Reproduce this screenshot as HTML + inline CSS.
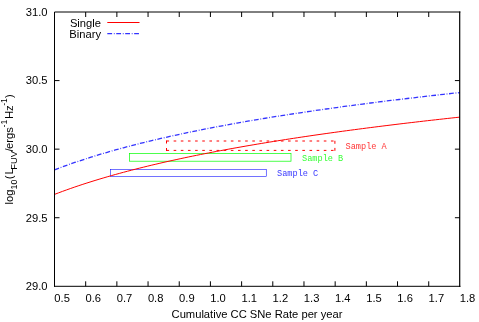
<!DOCTYPE html>
<html><head><meta charset="utf-8"><style>
html,body{margin:0;padding:0;background:#fff;}
svg{display:block;will-change:transform;}
text{font-family:"Liberation Sans",sans-serif;font-size:11.2px;fill:#000;}
.m{font-family:"Liberation Mono",monospace;font-size:8.6px;}
</style></head><body>
<svg width="479" height="322" viewBox="0 0 479 322">
<rect width="479" height="322" fill="#fff"/>

<g fill="none" stroke="#ff0000" stroke-width="1">
<path d="M166.5,141H335" stroke-dasharray="2.6 4.55"/>
<path d="M166.5,150.4H335" stroke-dasharray="2.6 4.55"/>
<path d="M166.5,140.5V151" stroke-dasharray="3 4.5 3 10"/>
<path d="M334.9,140.8V150.8" stroke-dasharray="3 4.1 3 10"/>
</g>
<rect x="129.5" y="153.5" width="161.5" height="7.7" fill="none" stroke="#00ff00" stroke-width="0.7"/>
<rect x="110.5" y="169.6" width="155.75" height="6.7" fill="none" stroke="#0000ff" stroke-width="0.55"/>
<polyline points="54.50,194.40 58.55,192.85 62.61,191.34 66.66,189.87 70.72,188.43 74.77,187.03 78.82,185.65 82.88,184.31 86.93,183.00 90.99,181.72 95.04,180.46 99.09,179.22 103.15,178.02 107.20,176.83 111.26,175.67 115.31,174.53 119.36,173.41 123.42,172.32 127.47,171.24 131.53,170.18 135.58,169.14 139.63,168.11 143.69,167.11 147.74,166.12 151.80,165.14 155.85,164.19 159.90,163.24 163.96,162.31 168.01,161.40 172.07,160.50 176.12,159.61 180.17,158.74 184.23,157.87 188.28,157.02 192.34,156.18 196.39,155.36 200.44,154.54 204.50,153.74 208.55,152.94 212.61,152.16 216.66,151.38 220.71,150.62 224.77,149.87 228.82,149.12 232.88,148.38 236.93,147.66 240.98,146.94 245.04,146.23 249.09,145.53 253.15,144.83 257.20,144.15 261.25,143.47 265.31,142.80 269.36,142.13 273.42,141.48 277.47,140.83 281.52,140.19 285.58,139.55 289.63,138.92 293.69,138.30 297.74,137.68 301.79,137.07 305.85,136.47 309.90,135.87 313.96,135.28 318.01,134.69 322.06,134.11 326.12,133.54 330.17,132.97 334.23,132.41 338.28,131.85 342.33,131.29 346.39,130.74 350.44,130.20 354.50,129.66 358.55,129.13 362.60,128.60 366.66,128.07 370.71,127.55 374.77,127.04 378.82,126.53 382.87,126.02 386.93,125.52 390.98,125.02 395.04,124.52 399.09,124.03 403.14,123.54 407.20,123.06 411.25,122.58 415.31,122.11 419.36,121.64 423.41,121.17 427.47,120.70 431.52,120.24 435.58,119.79 439.63,119.33 443.68,118.88 447.74,118.43 451.79,117.99 455.85,117.55 459.90,117.11" fill="none" stroke="#ff0000" stroke-width="1.0"/>
<polyline points="54.50,169.85 58.55,168.30 62.61,166.79 66.66,165.32 70.72,163.88 74.77,162.48 78.82,161.10 82.88,159.76 86.93,158.45 90.99,157.17 95.04,155.91 99.09,154.67 103.15,153.47 107.20,152.28 111.26,151.12 115.31,149.98 119.36,148.86 123.42,147.77 127.47,146.69 131.53,145.63 135.58,144.59 139.63,143.56 143.69,142.56 147.74,141.57 151.80,140.59 155.85,139.64 159.90,138.69 163.96,137.76 168.01,136.85 172.07,135.95 176.12,135.06 180.17,134.19 184.23,133.32 188.28,132.47 192.34,131.63 196.39,130.81 200.44,129.99 204.50,129.19 208.55,128.39 212.61,127.61 216.66,126.83 220.71,126.07 224.77,125.32 228.82,124.57 232.88,123.83 236.93,123.11 240.98,122.39 245.04,121.68 249.09,120.98 253.15,120.28 257.20,119.60 261.25,118.92 265.31,118.25 269.36,117.58 273.42,116.93 277.47,116.28 281.52,115.64 285.58,115.00 289.63,114.37 293.69,113.75 297.74,113.13 301.79,112.52 305.85,111.92 309.90,111.32 313.96,110.73 318.01,110.15 322.06,109.56 326.12,108.99 330.17,108.42 334.23,107.86 338.28,107.30 342.33,106.74 346.39,106.19 350.44,105.65 354.50,105.11 358.55,104.58 362.60,104.05 366.66,103.52 370.71,103.00 374.77,102.49 378.82,101.98 382.87,101.47 386.93,100.97 390.98,100.47 395.04,99.97 399.09,99.48 403.14,98.99 407.20,98.51 411.25,98.03 415.31,97.56 419.36,97.09 423.41,96.62 427.47,96.15 431.52,95.69 435.58,95.24 439.63,94.78 443.68,94.33 447.74,93.88 451.79,93.44 455.85,93.00 459.90,92.56" fill="none" stroke="#0000ff" stroke-width="1.3" stroke-opacity="0.8" stroke-dasharray="4.8 1.75 0.8 1.6"/>
<path d="M54.5,286.3V12.0H459.9" fill="none" stroke="#000" stroke-width="1" stroke-linecap="square"/>
<path d="M54.5,286.3H459.9" fill="none" stroke="#000" stroke-width="1" stroke-linecap="square"/>
<path d="M459.7,12.0V286.3" fill="none" stroke="#000" stroke-width="1.2" stroke-linecap="square"/>
<text transform="translate(62.10,301.80) scale(1,1.04)" text-anchor="middle" >0.5</text>
<path d="M85.68,286.3v-5.0M85.68,12.0v5.0" stroke="#000" stroke-width="1"/>
<text transform="translate(93.28,301.80) scale(1,1.04)" text-anchor="middle" >0.6</text>
<path d="M116.87,286.3v-5.0M116.87,12.0v5.0" stroke="#000" stroke-width="1"/>
<text transform="translate(124.47,301.80) scale(1,1.04)" text-anchor="middle" >0.7</text>
<path d="M148.05,286.3v-5.0M148.05,12.0v5.0" stroke="#000" stroke-width="1"/>
<text transform="translate(155.65,301.80) scale(1,1.04)" text-anchor="middle" >0.8</text>
<path d="M179.24,286.3v-5.0M179.24,12.0v5.0" stroke="#000" stroke-width="1"/>
<text transform="translate(186.84,301.80) scale(1,1.04)" text-anchor="middle" >0.9</text>
<path d="M210.42,286.3v-5.0M210.42,12.0v5.0" stroke="#000" stroke-width="1"/>
<text transform="translate(218.02,301.80) scale(1,1.04)" text-anchor="middle" >1.0</text>
<path d="M241.61,286.3v-5.0M241.61,12.0v5.0" stroke="#000" stroke-width="1"/>
<text transform="translate(249.21,301.80) scale(1,1.04)" text-anchor="middle" >1.1</text>
<path d="M272.79,286.3v-5.0M272.79,12.0v5.0" stroke="#000" stroke-width="1"/>
<text transform="translate(280.39,301.80) scale(1,1.04)" text-anchor="middle" >1.2</text>
<path d="M303.98,286.3v-5.0M303.98,12.0v5.0" stroke="#000" stroke-width="1"/>
<text transform="translate(311.58,301.80) scale(1,1.04)" text-anchor="middle" >1.3</text>
<path d="M335.16,286.3v-5.0M335.16,12.0v5.0" stroke="#000" stroke-width="1"/>
<text transform="translate(342.76,301.80) scale(1,1.04)" text-anchor="middle" >1.4</text>
<path d="M366.35,286.3v-5.0M366.35,12.0v5.0" stroke="#000" stroke-width="1"/>
<text transform="translate(373.95,301.80) scale(1,1.04)" text-anchor="middle" >1.5</text>
<path d="M397.53,286.3v-5.0M397.53,12.0v5.0" stroke="#000" stroke-width="1"/>
<text transform="translate(405.13,301.80) scale(1,1.04)" text-anchor="middle" >1.6</text>
<path d="M428.72,286.3v-5.0M428.72,12.0v5.0" stroke="#000" stroke-width="1"/>
<text transform="translate(436.32,301.80) scale(1,1.04)" text-anchor="middle" >1.7</text>
<text transform="translate(467.50,301.80) scale(1,1.04)" text-anchor="middle" >1.8</text>
<text transform="translate(47.50,290.20) scale(1,1.04)" text-anchor="end" >29.0</text>
<path d="M54.5,217.73h5.0M459.9,217.73h-5.0" stroke="#000" stroke-width="1"/>
<text transform="translate(47.50,221.63) scale(1,1.04)" text-anchor="end" >29.5</text>
<path d="M54.5,149.15h5.0M459.9,149.15h-5.0" stroke="#000" stroke-width="1"/>
<text transform="translate(47.50,153.05) scale(1,1.04)" text-anchor="end" >30.0</text>
<path d="M54.5,80.58h5.0M459.9,80.58h-5.0" stroke="#000" stroke-width="1"/>
<text transform="translate(47.50,84.48) scale(1,1.04)" text-anchor="end" >30.5</text>
<text transform="translate(47.50,15.90) scale(1,1.04)" text-anchor="end" >31.0</text>
<text transform="translate(101.00,26.55) scale(1,1.04)" text-anchor="end" >Single</text>
<text transform="translate(101.00,37.55) scale(1,1.04)" text-anchor="end" >Binary</text>
<path d="M107.3,22.5H139.5" stroke="#ff0000" stroke-width="1"/>
<path d="M107.3,33.55H139.5" stroke="#0000ff" stroke-width="1.3" stroke-opacity="0.8" stroke-dasharray="4.8 1.75 0.8 1.6"/>
<text class="m" x="345.5" y="148.5" style="fill:#ff0000" fill-opacity="0.8">Sample A</text>
<text class="m" x="302" y="160.5" style="fill:#00ff00" fill-opacity="0.8">Sample B</text>
<text class="m" x="277" y="176" style="fill:#0000ff" fill-opacity="0.8">Sample C</text>
<text transform="translate(257.00,318.00) scale(1,1.04)" text-anchor="middle" >Cumulative CC SNe Rate per year</text>
<text transform="translate(12.70,204.49) rotate(-90) scale(1,1.04)" style="font-size:11.2px">log</text>
<text transform="translate(16.90,189.46) rotate(-90) scale(1,1.04)" style="font-size:8.9px">10</text>
<text transform="translate(12.70,179.16) rotate(-90) scale(1,1.04)" style="font-size:11.2px">(</text>
<text transform="translate(12.70,174.51) rotate(-90) scale(1,1.04)" style="font-size:11.2px">L</text>
<text transform="translate(16.90,169.79) rotate(-90) scale(1,1.04)" style="font-size:9.4px">FUV</text>
<text transform="translate(12.70,151.56) rotate(-90) scale(1,1.04)" style="font-size:11.2px">/</text>
<text transform="translate(12.70,148.99) rotate(-90) scale(1,1.04)" style="font-size:11.2px">ergs</text>
<text transform="translate(7.10,127.46) rotate(-90) scale(1,1.04)" style="font-size:8.6px">-1</text>
<text transform="translate(12.70,119.12) rotate(-90) scale(1,1.04)" style="font-size:11.2px">Hz</text>
<text transform="translate(7.10,105.79) rotate(-90) scale(1,1.04)" style="font-size:8.6px">-1</text>
<text transform="translate(12.70,97.92) rotate(-90) scale(1,1.04)" style="font-size:11.2px">)</text>
</svg></body></html>
